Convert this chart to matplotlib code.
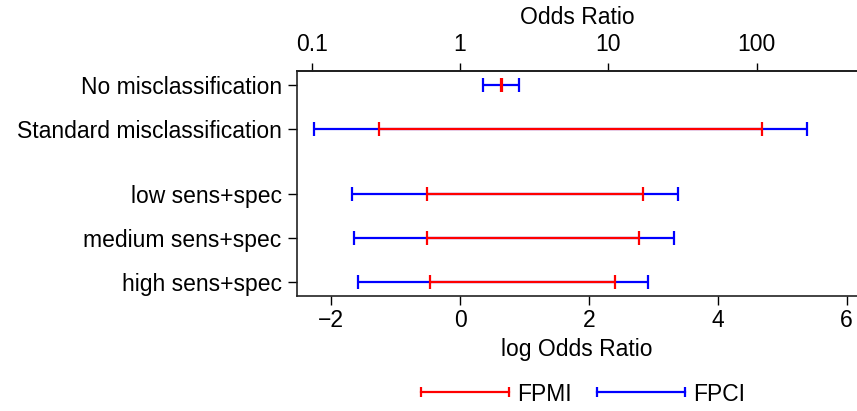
import numpy as np
import matplotlib
matplotlib.use("Agg")
import matplotlib.pyplot as plt
from matplotlib.lines import Line2D

plt.rcParams['font.family'] = ['Liberation Sans', 'DejaVu Sans']

# rows, top to bottom
labels = ["No misclassification", "Standard misclassification",
          "low sens+spec", "medium sens+spec", "high sens+spec"]
ypos = [0, 1, 2.5, 3.5, 4.5]

# log odds ratio intervals
fpmi_lo = [0.64, -1.25, -0.52, -0.52, -0.47]
fpmi_hi = [0.65, 4.68, 2.84, 2.77, 2.40]
fpci_lo = [0.36, -2.27, -1.68, -1.65, -1.58]
fpci_hi = [0.92, 5.38, 3.38, 3.32, 2.91]

or_ticks = [0.1, 1, 10, 100]
or_labels = ["0.1", "1", "10", "100"]

FS = 16.5

fig = plt.figure(figsize=(8.57, 4.11), dpi=100)
ax = fig.add_axes([297/857, 1 - 296/411, 560/857, 225/411])

def draw(lo, hi, color):
    for y, a, b in zip(ypos, lo, hi):
        ax.plot([a, b], [y, y], color=color, lw=1.6, solid_capstyle='butt')
        ax.plot([a, b], [y, y], ls='none', marker='|', ms=9.5, mew=1.6, color=color)

draw(fpci_lo, fpci_hi, 'blue')
draw(fpmi_lo, fpmi_hi, 'red')

ax.set_xlim(-2.53, 6.16)
ax.set_ylim(4.82, -0.32)
ax.set_xticks([-2, 0, 2, 4, 6])
ax.set_xticklabels(["\u22122", "0", "2", "4", "6"])
ax.set_yticks(ypos)
ax.set_yticklabels(labels)
ax.tick_params(axis='x', labelsize=FS, length=6.5, width=1, direction='out', pad=3)
ax.tick_params(axis='y', labelsize=FS, length=6.5, width=1, direction='out', pad=4.5)
ax.set_xlabel("log Odds Ratio", fontsize=FS, labelpad=4)
ax.spines['right'].set_visible(False)
for s in ['left', 'bottom', 'top']:
    ax.spines[s].set_linewidth(1.2)
    ax.spines[s].set_color('#222222')

sec = ax.secondary_xaxis('top')
sec.set_xticks(np.log(or_ticks))
sec.set_xticklabels(or_labels)
sec.tick_params(labelsize=FS, length=6, width=1, pad=5)
sec.set_xlabel("Odds Ratio", fontsize=FS, labelpad=6)
sec.spines['top'].set_linewidth(1.2)

handles = [
    Line2D([0, 1], [0, 0], color='red', lw=1.6, marker='|', ms=7, mew=1.6),
    Line2D([0, 1], [0, 0], color='blue', lw=1.6, marker='|', ms=7, mew=1.6),
]
fig.legend(handles, ["FPMI", "FPCI"], loc='center', bbox_to_anchor=(579.5/857, 1 - 394/411),
           ncol=2, frameon=False, fontsize=FS, numpoints=2, handlelength=4.47,
           handletextpad=0.05, columnspacing=0.78, borderpad=0.1)

fig.savefig("out.png", dpi=100)
